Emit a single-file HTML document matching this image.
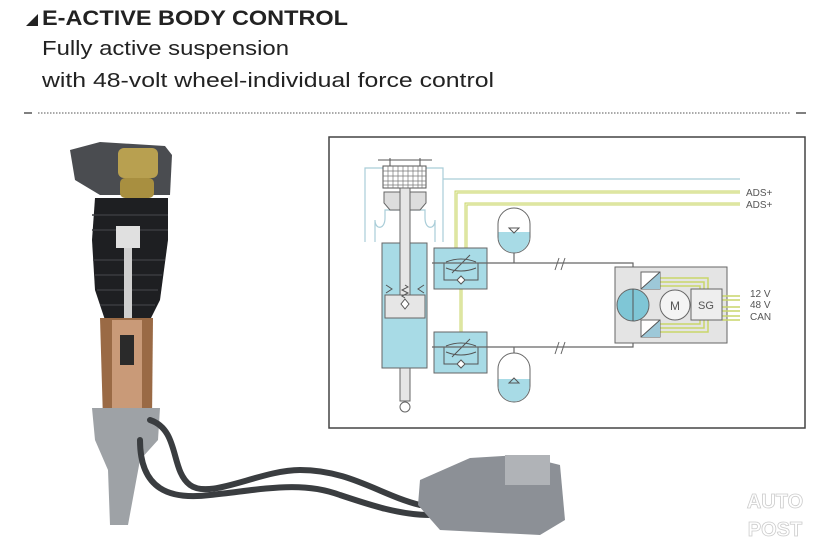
<!DOCTYPE html>
<html><head><meta charset="utf-8"><style>
body{margin:0;background:#fff;width:830px;height:551px;overflow:hidden;font-family:"Liberation Sans",sans-serif}
</style></head><body>
<svg width="830" height="551" viewBox="0 0 830 551" xmlns="http://www.w3.org/2000/svg" font-family="Liberation Sans, sans-serif">
<rect width="830" height="551" fill="#fff"/>
<!-- header -->
<path d="M26 26 L38 14 L38 26 Z" fill="#222"/>
<text x="42" y="25" font-size="21" font-weight="bold" fill="#222" textLength="306" lengthAdjust="spacingAndGlyphs">E-ACTIVE BODY CONTROL</text>
<text x="42" y="55" font-size="20" fill="#222" textLength="247" lengthAdjust="spacingAndGlyphs">Fully active suspension</text>
<text x="42" y="87" font-size="20" fill="#222" textLength="452" lengthAdjust="spacingAndGlyphs">with 48-volt wheel-individual force control</text>
<line x1="24" y1="113" x2="32" y2="113" stroke="#555" stroke-width="1.5"/>
<line x1="38" y1="113" x2="790" y2="113" stroke="#777" stroke-width="1.2" stroke-dasharray="1.5 1.5"/>
<line x1="796" y1="113" x2="806" y2="113" stroke="#555" stroke-width="1.5"/>

<!-- diagram frame -->
<rect x="329" y="137" width="476" height="291" fill="#fff" stroke="#444" stroke-width="1.5"/>
<g fill="none" stroke="#a9cdd8" stroke-width="1.2">
<path d="M365 242 V168 H443 V242"/>
<path d="M375 242 V220 C375 230 385 230 385 218 V210 H425 V218 C425 230 435 230 435 220 V242"/>
<line x1="443" y1="179" x2="740" y2="179"/>
</g>
<rect x="383" y="166" width="43" height="22" fill="#fff" stroke="#555"/>
<g stroke="#777" stroke-width="0.7">
<line x1="383" y1="171" x2="426" y2="171"/><line x1="383" y1="176" x2="426" y2="176"/><line x1="383" y1="181" x2="426" y2="181"/><line x1="383" y1="185" x2="426" y2="185"/>
<line x1="388" y1="166" x2="388" y2="188"/><line x1="393" y1="166" x2="393" y2="188"/><line x1="398" y1="166" x2="398" y2="188"/><line x1="403" y1="166" x2="403" y2="188"/><line x1="408" y1="166" x2="408" y2="188"/><line x1="413" y1="166" x2="413" y2="188"/><line x1="418" y1="166" x2="418" y2="188"/><line x1="422" y1="166" x2="422" y2="188"/>
</g>
<path d="M384 192 H426 V203 L420 210 H390 L384 203 Z" fill="#ddd" stroke="#666"/>
<line x1="378" y1="160" x2="432" y2="160" stroke="#555"/>
<line x1="390" y1="158" x2="390" y2="166" stroke="#555"/><line x1="420" y1="158" x2="420" y2="166" stroke="#555"/>
<rect x="382" y="243" width="45" height="125" fill="#a8dbe6" stroke="#666"/>
<rect x="385" y="295" width="40" height="23" fill="#e6e6e6" stroke="#666"/>
<path d="M386 285 l6 4 -6 4 M424 285 l-6 4 6 4" stroke="#555" fill="none"/>
<rect x="400" y="188" width="10" height="107" fill="#e6e6e6" stroke="#666"/>
<path d="M405 285 l3 2 -6 3 6 3 -6 3 3 2" stroke="#555" fill="none"/>
<path d="M405 299 l4 5 -4 5 -4 -5z" fill="#fff" stroke="#555"/>
<rect x="400" y="368" width="10" height="33" fill="#e6e6e6" stroke="#666"/>
<circle cx="405" cy="407" r="5" fill="#fff" stroke="#666"/>
<g fill="none" stroke="#c9d66a" stroke-width="3">
<path d="M456 248 V192 H740"/><path d="M466 248 V204 H740"/>
<line x1="461" y1="289" x2="461" y2="332"/>
</g>
<g fill="none" stroke="#f4f6d8" stroke-width="1">
<path d="M456 248 V192 H740"/><path d="M466 248 V204 H740"/>
<line x1="461" y1="289" x2="461" y2="332"/>
</g>
<text x="746" y="196" font-size="10" fill="#555">ADS+</text>
<text x="746" y="208" font-size="10" fill="#555">ADS+</text>
<rect x="434" y="248" width="53" height="41" fill="#a8dbe6" stroke="#666"/>
<rect x="434" y="332" width="53" height="41" fill="#a8dbe6" stroke="#666"/>
<g fill="none" stroke="#555">
<path d="M444 263 V280 H478 V263"/><path d="M446 262 q15 -6 30 0 M446 268 q15 6 30 0 M452 273 l18 -18"/>
<path d="M457 280 l4 -4 4 4 -4 4 z" fill="#fff"/>
<path d="M444 347 V364 H478 V347"/><path d="M446 346 q15 -6 30 0 M446 352 q15 6 30 0 M452 357 l18 -18"/>
<path d="M457 364 l4 -4 4 4 -4 4 z" fill="#fff"/>
</g>
<g stroke="#666" stroke-width="1.2" fill="none">
<path d="M432 263 H633 V290"/><path d="M432 347 H633 V320"/>
<line x1="514" y1="253" x2="514" y2="263"/><line x1="514" y1="347" x2="514" y2="353"/>
</g>
<g stroke="#666" fill="none"><path d="M555 270 l4 -12 M561 270 l4 -12 M555 354 l4 -12 M561 354 l4 -12"/></g>
<rect x="498" y="208" width="32" height="45" rx="16" fill="#fff" stroke="#666"/>
<path d="M498.5 232 H529.5 V237 A15.5 15.5 0 0 1 498.5 237 Z" fill="#a8dbe6"/>
<path d="M509 228 h10 l-5 5z" fill="none" stroke="#555"/>
<rect x="498" y="353" width="32" height="49" rx="16" fill="#fff" stroke="#666"/>
<path d="M498.5 379 H529.5 V386 A15.5 15.5 0 0 1 498.5 386 Z" fill="#a8dbe6"/>
<path d="M509 383 h10 l-5 -5z" fill="none" stroke="#555"/>
<rect x="615" y="267" width="112" height="76" fill="#e4e4e4" stroke="#666"/>
<g fill="none" stroke="#c9d66a" stroke-width="1.5">
<path d="M660 278 H708 V289 M660 282 H704 V289 M660 286 H700 V289"/>
<path d="M660 324 H700 V320 M660 328 H704 V320 M660 332 H708 V320"/>
<path d="M722 296 H740 M722 300 H740 M722 307 H740 M722 311 H740 M722 316 H740 M722 320 H740"/>
</g>
<rect x="641" y="272" width="19" height="17" fill="#fff" stroke="#666"/>
<path d="M641 289 L660 272 V289 Z" fill="#9dc8d8"/><path d="M641 289 L660 272" stroke="#555"/>
<rect x="641" y="320" width="19" height="17" fill="#fff" stroke="#666"/>
<path d="M641 337 L660 320 V337 Z" fill="#9dc8d8"/><path d="M641 337 L660 320" stroke="#555"/>
<circle cx="633" cy="305" r="16" fill="#7fc6d6" stroke="#666"/>
<line x1="633" y1="289" x2="633" y2="321" stroke="#555"/>
<circle cx="675" cy="305" r="15" fill="#f4f4f4" stroke="#666"/>
<text x="675" y="310" font-size="12" text-anchor="middle" fill="#555">M</text>
<rect x="691" y="289" width="31" height="31" fill="#eee" stroke="#666"/>
<text x="706" y="309" font-size="11" text-anchor="middle" fill="#555">SG</text>
<text x="750" y="297" font-size="10" fill="#555">12 V</text>
<text x="750" y="308" font-size="10" fill="#555">48 V</text>
<text x="750" y="320" font-size="10" fill="#555">CAN</text>

<!-- strut photo approximation -->
<path d="M70 150 L100 142 L165 146 L172 155 L170 195 L100 195 L75 180 Z" fill="#4a4c50"/>
<rect x="118" y="148" width="40" height="30" rx="6" fill="#b8a050"/>
<rect x="120" y="178" width="34" height="20" rx="5" fill="#a88f40"/>
<path d="M95 198 H168 L168 240 L160 300 L150 320 H105 L95 290 L92 240 Z" fill="#1e1f22"/>
<g stroke="#3a3c40" stroke-width="1.5">
<line x1="92" y1="215" x2="168" y2="215"/><line x1="92" y1="230" x2="168" y2="230"/><line x1="93" y1="260" x2="165" y2="260"/><line x1="95" y1="275" x2="162" y2="275"/><line x1="97" y1="290" x2="158" y2="290"/><line x1="100" y1="305" x2="155" y2="305"/>
</g>
<rect x="116" y="226" width="24" height="22" fill="#e0e0e0"/>
<rect x="124" y="248" width="8" height="70" fill="#cfcfcf"/>
<path d="M100 318 H153 L152 420 H103 Z" fill="#9a6a45"/>
<rect x="112" y="320" width="30" height="98" fill="#c99a78"/>
<rect x="120" y="335" width="14" height="30" fill="#2a2a2a"/>
<path d="M92 408 H160 L158 440 L140 460 L128 525 L110 525 L108 470 L95 440 Z" fill="#9ea2a6"/>
<g fill="none" stroke-linecap="round">
<path d="M150 420 C180 430 170 470 190 485 C210 500 260 470 300 470 C350 470 380 495 420 505" stroke="#3a3d40" stroke-width="6"/>
<path d="M140 440 C140 490 170 500 210 495 C260 490 300 480 340 495 C370 505 400 515 430 515" stroke="#3a3d40" stroke-width="6"/>
</g>
<path d="M420 480 L470 458 L520 455 L560 465 L565 520 L540 535 L440 530 L418 505 Z" fill="#8c9096"/>
<rect x="505" y="455" width="45" height="30" fill="#b0b3b7"/>
<text x="775" y="508" font-size="20" font-weight="bold" text-anchor="middle" fill="#fff" stroke="#ccc" stroke-width="0.8">AUTO</text>
<text x="775" y="536" font-size="20" font-weight="bold" text-anchor="middle" fill="#fff" stroke="#ccc" stroke-width="0.8">POST</text>
</svg>
</body></html>
